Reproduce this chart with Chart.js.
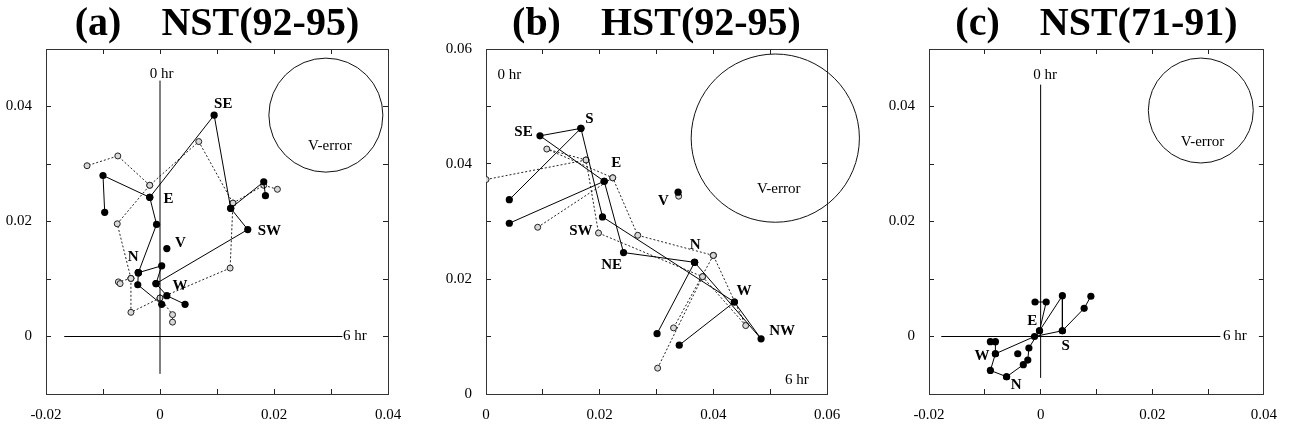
<!DOCTYPE html>
<html>
<head>
<meta charset="utf-8">
<script src="https://cdn.jsdelivr.net/npm/chart.js@4.4.1/dist/chart.umd.min.js"></script>
<style>
  body { margin: 0; background: #fff; }
  canvas { position: absolute; top: 0; }
</style>
</head>
<body>
<canvas id="panelA" width="430" height="432" style="left:0"></canvas>
<canvas id="panelB" width="432" height="432" style="left:430px"></canvas>
<canvas id="panelC" width="432" height="432" style="left:862px"></canvas>
<script>
// ring order: N, NE, E, SE, S, SW, W, NW  (closed back to N when drawn)

// (a) NST(92-95)
const aSolidRing = [[-0.0038, 0.0111], [-0.0006, 0.0195], [-0.0018, 0.0242], [0.0095, 0.0385],
                    [0.0124, 0.0223], [0.0154, 0.0186], [-0.0007, 0.0092], [0.0003, 0.0123]];
const aSolidTails = [
    [[-0.0018, 0.0242], [-0.0100, 0.0280], [-0.0097, 0.0216]],
    [[0.0124, 0.0223], [0.0182, 0.0269], [0.0185, 0.0245]],
    [[-0.0038, 0.0111], [-0.0039, 0.0090], [0.0003, 0.0056]],
    [[-0.0007, 0.0092], [0.0012, 0.0071], [0.0044, 0.0056]],
];
const aSolidV = [[0.0012, 0.0153]];
const aDotRing = [[-0.0051, 0.0101], [-0.0075, 0.0196], [-0.0018, 0.0263], [0.0068, 0.0339],
                  [0.0128, 0.0232], [0.0123, 0.0119], [0.0000, 0.0067], [-0.0051, 0.0042]];
const aDotTails = [
    [[-0.0018, 0.0263], [-0.0074, 0.0314], [-0.0128, 0.0297]],
    [[0.0128, 0.0232], [0.0182, 0.0263], [0.0206, 0.0256]],
    [[-0.0051, 0.0101], [-0.0073, 0.0095], [-0.0070, 0.0092]],
    [[0.0000, 0.0067], [0.0022, 0.0038], [0.0022, 0.0025]],
];
const aHourAxes = [[[0, -0.0065], [0, 0.0445]], [[-0.0168, 0], [0.0320, 0]]];
const aLabels = [['SE', 0.0111, 0.0405, true], ['E', 0.0015, 0.0239, true], ['V', 0.0036, 0.0163, true],
                 ['N', -0.0047, 0.0138, true], ['W', 0.0035, 0.0088, true], ['SW', 0.0192, 0.0184, true],
                 ['0 hr', 0.0003, 0.0457, false], ['6 hr', 0.0342, 0.0, false], ['V-error', 0.0298, 0.0332, false]];
const aError = [0.0291, 0.0385, 0.0100];

// (b) HST(92-95)
const bSolidRing = [[0.0367, 0.0229], [0.0242, 0.0246], [0.0208, 0.0370], [0.0095, 0.0449],
                    [0.0167, 0.0462], [0.0205, 0.0308], [0.0437, 0.0160], [0.0484, 0.0096]];
const bSolidTails = [
    [[0.0208, 0.0370], [0.0041, 0.0297]],
    [[0.0167, 0.0462], [0.0041, 0.0338]],
    [[0.0367, 0.0229], [0.0301, 0.0105]],
    [[0.0437, 0.0160], [0.0340, 0.0085]],
];
const bSolidV = [[0.0338, 0.0351]];
const bDotRing = [[0.0400, 0.0241], [0.0267, 0.0276], [0.0223, 0.0376], [0.0107, 0.0426],
                  [0.0176, 0.0407], [0.0198, 0.0280], [0.0381, 0.0204], [0.0457, 0.0119]];
const bDotTails = [
    [[0.0223, 0.0376], [0.0091, 0.0290]],
    [[0.0176, 0.0407], [0.0000, 0.0373]],
    [[0.0400, 0.0241], [0.0330, 0.0115]],
    [[0.0381, 0.0204], [0.0302, 0.0045]],
];
const bDotV = [[0.0339, 0.0344]];
const bLabels = [['SE', 0.0066, 0.0455, true], ['S', 0.0182, 0.0478, true], ['E', 0.0229, 0.0401, true],
                 ['V', 0.0312, 0.0335, true], ['SW', 0.0167, 0.0283, true], ['NE', 0.0221, 0.0225, true],
                 ['N', 0.0368, 0.0259, true], ['W', 0.0454, 0.0179, true], ['NW', 0.0521, 0.0110, true],
                 ['0 hr', 0.0041, 0.0555, false], ['6 hr', 0.0547, 0.0025, false], ['V-error', 0.0515, 0.0356, false]];
const bError = [0.0509, 0.0445, 0.0148];

// (c) NST(71-91)
const cSolidRing = [[-0.0061, -0.0070], [-0.0031, -0.0049], [-0.0023, -0.0041], [-0.0021, -0.0020],
                    [-0.0002, 0.0010], [0.0039, 0.0071], [0.0039, 0.0010], [-0.0011, 0.0000],
                    [-0.0081, -0.0030], [-0.0090, -0.0059]];
const cSolidTails = [
    [[-0.0002, 0.0010], [0.0010, 0.0060], [-0.0010, 0.0060]],
    [[0.0039, 0.0010], [0.0078, 0.0049], [0.0090, 0.0070]],
    [[-0.0081, -0.0030], [-0.0081, -0.0009], [-0.0090, -0.0009]],
];
const cSolidV = [[-0.0041, -0.0030]];
const cHourAxes = [[[0, -0.0072], [0, 0.0438]], [[-0.0178, 0], [0.0322, 0]]];
const cLabels = [['E', -0.0015, 0.0026, true], ['S', 0.0045, -0.0017, true], ['W', -0.0105, -0.0034, true],
                 ['N', -0.0044, -0.0084, true], ['0 hr', 0.0008, 0.0455, false], ['6 hr', 0.0348, 0.0, false],
                 ['V-error', 0.0290, 0.0339, false]];
const cError = [0.0287, 0.0393, 0.0094];

const serif = '"Liberation Serif", "Times New Roman", serif';

function pts(list) {
    return list.map(([x, y]) => ({ x: x, y: y }));
}

function solidSet(list) {
    return {
        data: pts(list), showLine: true, borderColor: '#000', borderWidth: 1,
        pointRadius: 3.6, pointBackgroundColor: '#000', pointBorderWidth: 0, pointHoverRadius: 3.6
    };
}

function dotSet(list) {
    return {
        data: pts(list), showLine: true, borderColor: '#222', borderWidth: 1, borderDash: [2, 2],
        pointRadius: 3, pointBackgroundColor: '#d8d8d8', pointBorderColor: '#222', pointBorderWidth: 1
    };
}

function axisSet(list) {
    return { data: pts(list), showLine: true, borderColor: '#000', borderWidth: 1, pointRadius: 0 };
}

function tickLabel(v) {
    const k = Math.round(v * 100);
    if (k % 2 !== 0) return '';
    return k === 0 ? '0' : (k / 100).toFixed(2);
}

function makeScales(xr, yr, leftW, rightW) {
    const grid = { drawOnChartArea: false, drawTicks: true, tickLength: -5, color: '#222' };
    const border = { display: true, color: '#333', width: 1 };
    const tickFont = { family: serif, size: 15 };
    return {
        x: {
            type: 'linear', position: 'bottom', min: xr[0], max: xr[1], grid: grid, border: border,
            ticks: { stepSize: 0.01, autoSkip: false, maxRotation: 0, padding: 17, color: '#000', font: tickFont, callback: tickLabel },
            afterFit: s => { s.height = 38; }
        },
        x2: {
            type: 'linear', position: 'top', min: xr[0], max: xr[1], grid: grid, border: border,
            ticks: { stepSize: 0.01, autoSkip: false, display: false },
            afterFit: s => { s.height = 0; }
        },
        y: {
            type: 'linear', position: 'left', min: yr[0], max: yr[1], grid: grid, border: border,
            ticks: { stepSize: 0.01, autoSkip: false, padding: 19, color: '#000', font: tickFont, callback: tickLabel },
            afterFit: s => { s.width = leftW; }
        },
        y2: {
            type: 'linear', position: 'right', min: yr[0], max: yr[1], grid: grid, border: border,
            ticks: { stepSize: 0.01, autoSkip: false, display: false },
            afterFit: s => { s.width = rightW; }
        }
    };
}

function overlay(labels, err) {
    return {
        id: 'overlay',
        afterDatasetsDraw(chart) {
            const ctx = chart.ctx;
            const x = chart.scales.x, y = chart.scales.y;
            ctx.save();
            ctx.strokeStyle = '#111';
            ctx.lineWidth = 1;
            const cx = x.getPixelForValue(err[0]);
            const cy = y.getPixelForValue(err[1]);
            const r = x.getPixelForValue(err[0] + err[2]) - cx;
            ctx.beginPath();
            ctx.arc(cx, cy, r, 0, Math.PI * 2);
            ctx.stroke();
            ctx.fillStyle = '#000';
            ctx.textAlign = 'center';
            ctx.textBaseline = 'middle';
            labels.forEach(([t, lx, ly, bold]) => {
                ctx.font = (bold ? 'bold ' : '') + '15px ' + serif;
                ctx.fillText(t, x.getPixelForValue(lx), y.getPixelForValue(ly));
            });
            ctx.restore();
        }
    };
}

function panel(id, title, datasets, xr, yr, leftW, rightW, labels, err) {
    return new Chart(document.getElementById(id), {
        type: 'scatter',
        data: { datasets: datasets },
        options: {
            responsive: false,
            animation: false,
            layout: { padding: 0 },
            scales: makeScales(xr, yr, leftW, rightW),
            plugins: {
                legend: { display: false },
                tooltip: { enabled: false },
                title: {
                    display: true, text: title, fullSize: false, color: '#000',
                    font: { family: serif, size: 40, weight: 'bold', lineHeight: 1.2 },
                    padding: { top: 1, bottom: 0 }
                }
            }
        },
        plugins: [overlay(labels, err)]
    });
}

function closed(ring) {
    return ring.concat([ring[0]]);
}

const chartA = panel('panelA', '(a)    NST(92-95)', [
    ...aHourAxes.map(axisSet),
    solidSet(closed(aSolidRing)),
    ...aSolidTails.map(solidSet),
    solidSet(aSolidV),
    dotSet(closed(aDotRing)),
    ...aDotTails.map(dotSet),
], [-0.02, 0.04], [-0.01, 0.05], 46, 42, aLabels, aError);

const chartB = panel('panelB', '(b)    HST(92-95)', [
    solidSet(closed(bSolidRing)),
    ...bSolidTails.map(solidSet),
    solidSet(bSolidV),
    dotSet(closed(bDotRing)),
    ...bDotTails.map(dotSet),
    dotSet(bDotV),
], [0, 0.06], [0, 0.06], 56, 35, bLabels, bError);

const chartC = panel('panelC', '(c)    NST(71-91)', [
    ...cHourAxes.map(axisSet),
    solidSet(closed(cSolidRing)),
    ...cSolidTails.map(solidSet),
    solidSet(cSolidV),
], [-0.02, 0.04], [-0.01, 0.05], 67, 21, cLabels, cError);
</script>
</body>
</html>
